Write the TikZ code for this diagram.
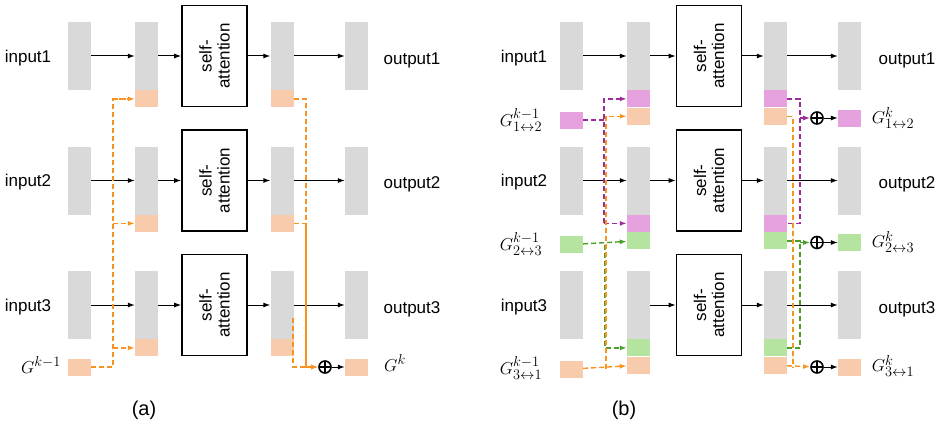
\documentclass[tikz,border=0pt]{standalone}
\usepackage{fontspec}
\setmainfont{Liberation Sans}
\usetikzlibrary{arrows.meta,positioning}
\definecolor{blk}{HTML}{D9D9D9}
\definecolor{pnk}{HTML}{F8CBAD}
\definecolor{mag}{HTML}{E6A2DE}
\definecolor{grn}{HTML}{B5E4A1}
\definecolor{oline}{HTML}{F7931E}
\definecolor{mline}{HTML}{9B2D9B}
\definecolor{gline}{HTML}{4A9E2A}
\tikzset{
  blk/.style={fill=blk,minimum width=23pt,minimum height=68pt,inner sep=0pt},
  gblk/.style={fill=#1,minimum width=23pt,minimum height=17pt,inner sep=0pt},
  sa/.style={draw,line width=1.6pt,minimum width=65pt,minimum height=101pt,inner sep=0pt},
  arr/.style={-{Latex[length=7pt,width=5pt]},line width=1pt},
  dsh/.style={draw=#1,line width=1.4pt,dash pattern=on 5pt off 3pt},
  tip/.style={-{Latex[length=7pt,width=5pt]}},
  oplus/.style={circle,draw,line width=1.6pt,minimum size=12pt,inner sep=0pt,
    path picture={\draw[line width=1.4pt] (path picture bounding box.north) -- (path picture bounding box.south)
      (path picture bounding box.west) -- (path picture bounding box.east);}},
  lbl/.style={font=\fontsize{17}{20}\selectfont},
  glbl/.style={font=\fontsize{19}{22}\selectfont},
}
\begin{document}
\begin{tikzpicture}[x=1pt,y=-1pt]
\useasboundingbox (0,0) rectangle (943,428);
% panel (a)
\foreach \r in {0,1,2}{
  \pgfmathsetmacro{\yc}{56+\r*124.5}
  \node[blk] (ain\r) at (79.5,\yc) {};
  \node[blk] (amid\r) at (146.5,\yc) {};
  \node[gblk=pnk,below=0pt of amid\r] (amp\r) {};
  \node[sa] (asa\r) at (214.5,\yc) {\rotatebox{90}{\parbox{80pt}{\centering\fontsize{17}{18}\selectfont self-\\attention}}};
  \node[blk] (apost\r) at (282,\yc) {};
  \node[gblk=pnk,below=0pt of apost\r] (app\r) {};
  \node[blk] (aout\r) at (356.5,\yc) {};
  \node[lbl] at (28,\yc+2) {input\the\numexpr\r+1\relax};
  \node[lbl] at (412,\yc+4) {output\the\numexpr\r+1\relax};
  \draw[arr] (ain\r) -- (amid\r);
  \draw[arr] (amid\r) -- (asa\r);
  \draw[arr] (asa\r) -- (apost\r);
  \draw[arr] (apost\r) -- (aout\r);
}
\node[gblk=pnk] (agin) at (79.5,367) {};
\node[glbl] at (41,365) {$G^{k-1}$};
\node[oplus] (aplus) at (325,367) {};
\node[gblk=pnk] (agout) at (356.5,367) {};
\node[glbl] at (395,363) {$G^{k}$};
\draw[arr] (aplus) -- (agout);
\coordinate (abusL) at (113,367);
\draw[dsh=oline] (agin) -- (abusL) |- (amp0);
\draw[dsh=oline,tip] (abusL |- amp0) -- (amp0);
\draw[dsh=oline,tip] (abusL |- amp1) -- (amp1);
\draw[dsh=oline,tip] (abusL |- amp2) -- (amp2);
\coordinate (abusR) at (306,367);
\coordinate (aside) at (293,318);
\draw[dsh=oline] (app0) -| (abusR |- app1) -- (app1);
\draw[oline,line width=1.4pt,tip] (abusR |- app1) -- (abusR) -- (aplus);
\draw[dsh=oline,tip] (aside) |- (aplus);
\node[font=\fontsize{20}{24}\selectfont] at (144,410) {(a)};
% panel (b)
\foreach \r/\ca/\cb/\cc in {0/mag/pnk/mag,1/mag/grn/grn,2/grn/pnk/pnk}{
  \pgfmathsetmacro{\yc}{56+\r*124.5}
  \node[blk] (bin\r) at (571.5,\yc) {};
  \node[blk] (bmid\r) at (638.5,\yc) {};
  \node[gblk=\ca,below=0pt of bmid\r] (bma\r) {};
  \node[gblk=\cb,below=0pt of bma\r] (bmb\r) {};
  \node[sa] (bsa\r) at (709,\yc) {\rotatebox{90}{\parbox{80pt}{\centering\fontsize{17}{18}\selectfont self-\\attention}}};
  \node[blk] (bpost\r) at (775.5,\yc) {};
  \node[gblk=\ca,below=0pt of bpost\r] (bpa\r) {};
  \node[gblk=\cb,below=0pt of bpa\r] (bpb\r) {};
  \node[blk] (bout\r) at (849.5,\yc) {};
  \node[lbl] at (524,\yc+2) {input\the\numexpr\r+1\relax};
  \node[lbl] at (907,\yc+4) {output\the\numexpr\r+1\relax};
  \node[gblk=\cc] (bgin\r) at (571.5,\yc+64) {};
  \node[oplus] (bplus\r) at (817,\yc+62) {};
  \node[gblk=\cc] (bgout\r) at (849.5,\yc+62) {};
  \draw[arr] (bplus\r) -- (bgout\r);
  \draw[arr] (bmid\r) -- (bsa\r);
  \draw[arr] (bsa\r) -- (bpost\r);
  \draw[arr] (bpost\r) -- (bout\r);
}
\draw[arr] (bin0) -- (bmid0);
\draw[arr] (bin1) -- (bmid1);
\node[glbl] at (521,120) {$G^{k-1}_{1\leftrightarrow2}$};
\node[glbl] at (521,244) {$G^{k-1}_{2\leftrightarrow3}$};
\node[glbl] at (521,368) {$G^{k-1}_{3\leftrightarrow1}$};
\node[glbl] at (893,118) {$G^{k}_{1\leftrightarrow2}$};
\node[glbl] at (893,242) {$G^{k}_{2\leftrightarrow3}$};
\node[glbl] at (893,366) {$G^{k}_{3\leftrightarrow1}$};
% left buses
\coordinate (bbusM) at (604,0);
\coordinate (bbusO) at (606,0);
\coordinate (bbusG) at (605,0);
\draw[dsh=mline] (bgin0) -- (bbusM |- bgin0);
\draw[dsh=mline,tip] (bbusM |- bma1) |- (bma0);
\draw[dsh=mline,tip] (bbusM |- bma1) -- (bma1);
\draw[dsh=gline,tip] (bgin1) -- (bmb1);
\draw[dsh=gline,tip] (bbusG |- bgin1) |- (bma2);
\draw[dsh=oline,tip] (bgin2) -- (bmb2);
\draw[dsh=oline,tip] (bbusO |- bgin2) |- (bmb0);
% right buses
\coordinate (bbusR1) at (800,0);
\coordinate (bbusR2) at (793,0);
\draw[dsh=mline] (bpa0) -| (bbusR1 |- bpa1) -- (bpa1);
\draw[dsh=mline,tip] (bbusR1 |- bplus0) -- (bplus0);
\draw[dsh=gline] (bpb1) -- (bbusR1 |- bpb1) |- (bpa2);
\draw[dsh=gline,tip] (bbusR1 |- bplus1) -- (bplus1);
\draw[dsh=oline] (bpb0) -| (bbusR2 |- bplus2);
\draw[dsh=oline,tip] (bpb2) -- (bplus2);
\node[font=\fontsize{20}{24}\selectfont] at (624,410) {(b)};
\end{tikzpicture}
\end{document}
